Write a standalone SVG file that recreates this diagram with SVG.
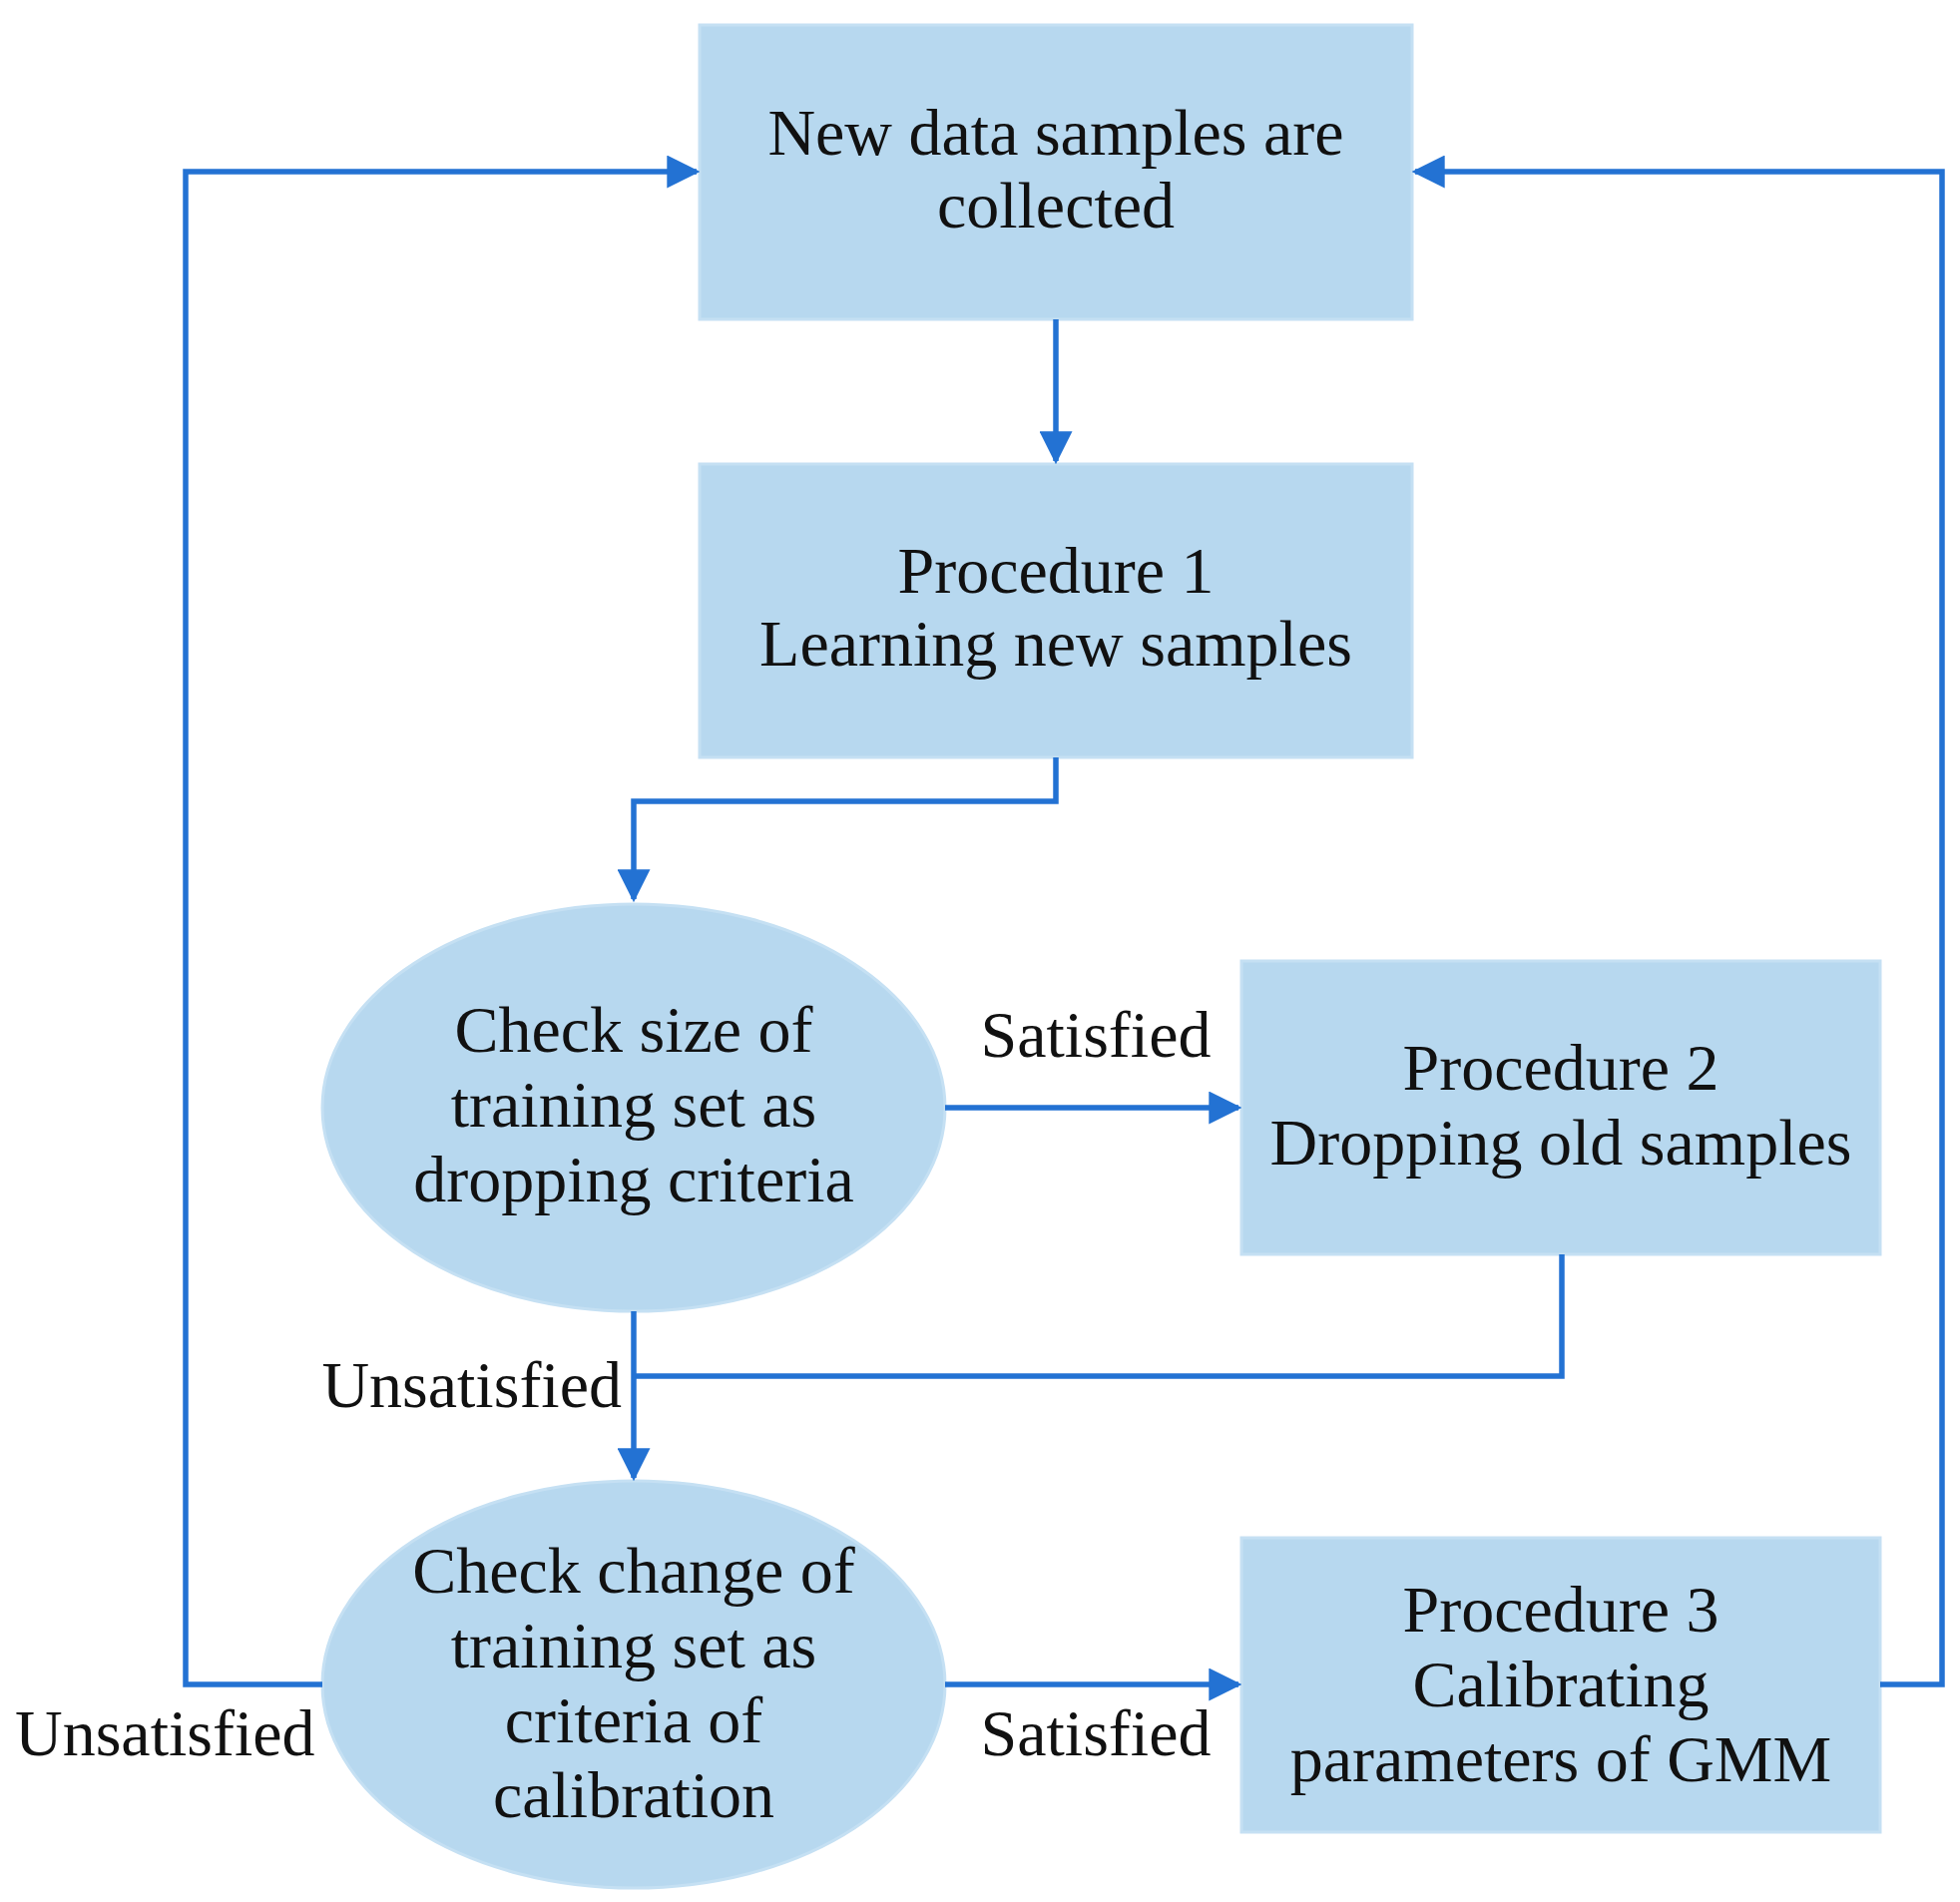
<svg xmlns="http://www.w3.org/2000/svg" width="1964" height="1906" viewBox="0 0 1964 1906">
<style>
.n{fill:#B7D8EF;stroke:#C5E0F3;stroke-width:3}
.t{font-family:"Liberation Serif","Times New Roman",serif;font-size:66px;fill:#111;text-anchor:middle}
.c{fill:none;stroke:#2372D3;stroke-width:5.5}
</style>
<defs><marker id="a" viewBox="0 0 10 10" refX="9" refY="5" markerWidth="6" markerHeight="6" markerUnits="strokeWidth" orient="auto"><path d="M0,0L10,5L0,10z" fill="#2372D3"/></marker></defs>
<rect width="1964" height="1906" fill="#fff"/>
<g id="n1"><rect class="n" x="701" y="25" width="714" height="295"/><text class="t" x="1058" y="155">New data samples are</text><text class="t" x="1058" y="228">collected</text></g>
<g id="n2"><rect class="n" x="701" y="465" width="714" height="294"/><text class="t" x="1058" y="594">Procedure 1</text><text class="t" x="1058" y="667">Learning new samples</text></g>
<g id="n3"><ellipse class="n" cx="635" cy="1110" rx="312" ry="204"/><text class="t" x="635" y="1054">Check size of</text><text class="t" x="635" y="1129">training set as</text><text class="t" x="635" y="1204">dropping criteria</text></g>
<g id="n4"><rect class="n" x="1244" y="963" width="640" height="294"/><text class="t" x="1564" y="1092">Procedure 2</text><text class="t" x="1564" y="1167">Dropping old samples</text></g>
<g id="n5"><ellipse class="n" cx="635" cy="1688" rx="312" ry="204"/><text class="t" x="635" y="1596">Check change of</text><text class="t" x="635" y="1671">training set as</text><text class="t" x="635" y="1746">criteria of</text><text class="t" x="635" y="1821">calibration</text></g>
<g id="n6"><rect class="n" x="1244" y="1541" width="640" height="295"/><text class="t" x="1564" y="1635">Procedure 3</text><text class="t" x="1564" y="1710">Calibrating</text><text class="t" x="1564" y="1785">parameters of GMM</text></g>
<g id="connectors">
<path class="c" d="M1058,320V462" marker-end="url(#a)"/>
<path class="c" d="M1058,759V803H635V901" marker-end="url(#a)"/>
<path class="c" d="M947,1110H1241" marker-end="url(#a)"/>
<path class="c" d="M1565,1257V1379H635"/>
<path class="c" d="M635,1314V1481" marker-end="url(#a)"/>
<path class="c" d="M947,1688H1241" marker-end="url(#a)"/>
<path class="c" d="M323,1688H186V172H698" marker-end="url(#a)"/>
<path class="c" d="M1884,1688H1946V172H1418" marker-end="url(#a)"/>
<text class="t" x="1098" y="1059">Satisfied</text>
<text class="t" x="1098" y="1759">Satisfied</text>
<text class="t" x="623" y="1410" style="text-anchor:end">Unsatisfied</text>
<text class="t" x="15" y="1759" style="text-anchor:start">Unsatisfied</text>
</g>
</svg>
